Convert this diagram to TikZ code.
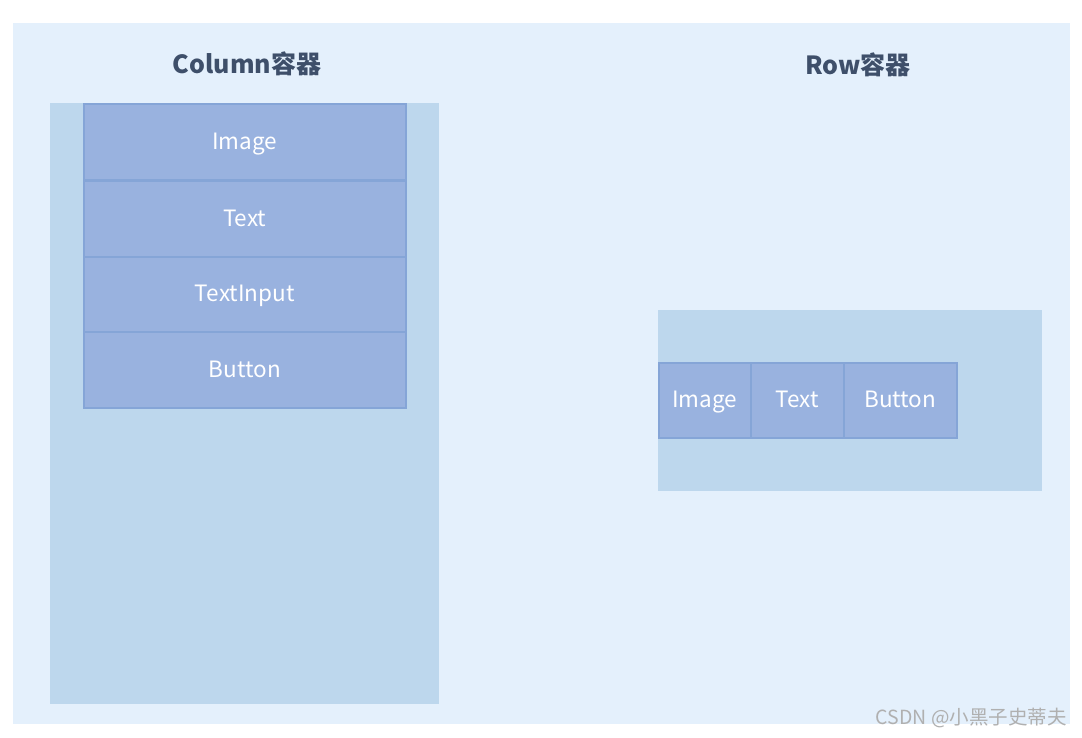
\documentclass[tikz,border=0pt]{standalone}
\usepackage{fontspec}
\setmainfont{Noto Sans CJK SC}
\usepackage{xcolor}
\usetikzlibrary{positioning}
\definecolor{panelBlue}{RGB}{228,240,252}
\definecolor{boxBlue}{RGB}{189,215,237}
\definecolor{itemBlue}{RGB}{153,178,223}
\definecolor{itemEdge}{RGB}{133,165,215}
\definecolor{titleInk}{RGB}{62,79,106}
\definecolor{markGray}{RGB}{176,176,176}

\begin{document}
\begin{tikzpicture}[x=1pt,y=-1pt,
  holder/.style={fill=boxBlue,draw=none,inner sep=0pt,anchor=north west},
  item/.style={fill=itemBlue,draw=itemEdge,line width=1.5pt,inner sep=0pt,anchor=north west,text=white,text height=1.5em,text depth=0em,font=\fontsize{22.5}{24}\selectfont},
  heading/.style={text=titleInk,font=\bfseries\fontsize{25}{27}\selectfont}]
\path[use as bounding box,fill=white] (0,0) rectangle (1082,737);
\node[fill=panelBlue,inner sep=0pt,minimum width=1057pt,minimum height=701pt,anchor=north west] (panel) at (13,23) {};

% column side
\node[heading] (colTitle) at (247,64) {Column容器};
\node[holder,minimum width=389pt,minimum height=601pt] (colBox) at (50,103) {};
\node[item,minimum width=322pt,minimum height=76pt] (colImage) at (83,103) {Image};
\node[item,minimum width=322pt,minimum height=76pt] (colText) at (83,180) {Text};
\node[item,minimum width=322pt,minimum height=75pt] (colInput) at (83,256) {TextInput};
\node[item,minimum width=322pt,minimum height=76pt] (colButton) at (83,331) {Button};

% row side
\node[heading] (rowTitle) at (858,65) {Row容器};
\node[holder,minimum width=384pt,minimum height=181pt] (rowBox) at (658,310) {};
\node[item,minimum width=92pt,minimum height=75pt] (rowImage) at (658,362) {Image};
\node[item,minimum width=93pt,minimum height=75pt] (rowText) at (750,362) {Text};
\node[item,minimum width=113pt,minimum height=75pt] (rowButton) at (843,362) {Button};

\node[text=markGray,font=\fontsize{19.5}{21}\selectfont,anchor=east,inner sep=0pt] (mark) at (1067,718) {CSDN @小黑子史蒂夫};
\end{tikzpicture}
\end{document}
